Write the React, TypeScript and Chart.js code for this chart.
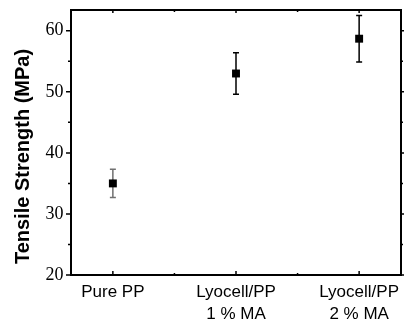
import React, { useEffect, useRef } from 'react';
import { Chart, registerables } from 'chart.js';

Chart.register(...registerables);

// ---- data ----
const categories: string[][] = [['Pure PP'], ['Lyocell/PP', '1 % MA'], ['Lyocell/PP', '2 % MA']];
const positions = [0, 1, 2];
const strength = [35.0, 53.0, 58.7];
const errors = [2.3, 3.4, 3.8];
const errorColors = ['#707070', '#000000', '#000000'];
const yMajorTicks = [20, 30, 40, 50, 60];
const yMinorTicks = [25, 35, 45, 55];
const xMinorTicks = [0.5, 1.5];
const yTitle = 'Tensile Strength (MPa)';

const framePlugin = {
  id: 'frameTicks',
  beforeDatasetsDraw(chart: any) {
    const ctx = chart.ctx;
    const xs = chart.scales.x;
    const ys = chart.scales.y;
    ctx.save();
    ctx.lineWidth = 1.5;
    positions.forEach((p, i) => {
      const x = xs.getPixelForValue(p);
      const yt = ys.getPixelForValue(strength[i] + errors[i]);
      const yb = ys.getPixelForValue(strength[i] - errors[i]);
      ctx.strokeStyle = errorColors[i];
      ctx.beginPath();
      ctx.moveTo(x, yt);
      ctx.lineTo(x, yb);
      ctx.moveTo(x - 3, yt);
      ctx.lineTo(x + 3, yt);
      ctx.moveTo(x - 3, yb);
      ctx.lineTo(x + 3, yb);
      ctx.stroke();
    });
    ctx.restore();
  },
  afterDraw(chart: any) {
    const ctx = chart.ctx;
    const { left, right, top, bottom } = chart.chartArea;
    const xs = chart.scales.x;
    const ys = chart.scales.y;
    ctx.save();
    ctx.strokeStyle = '#000';
    ctx.lineWidth = 2;
    ctx.strokeRect(left, top, right - left, bottom - top);
    ctx.lineWidth = 1.5;
    ctx.beginPath();
    yMajorTicks.forEach((v) => {
      const y = ys.getPixelForValue(v);
      ctx.moveTo(left - 5, y);
      ctx.lineTo(left, y);
      ctx.moveTo(right, y);
      ctx.lineTo(right + 3, y);
    });
    yMinorTicks.forEach((v) => {
      const y = ys.getPixelForValue(v);
      ctx.moveTo(left - 3, y);
      ctx.lineTo(left, y);
      ctx.moveTo(right, y);
      ctx.lineTo(right + 2, y);
    });
    positions.forEach((v) => {
      const x = xs.getPixelForValue(v);
      ctx.moveTo(x, bottom);
      ctx.lineTo(x, bottom - 4);
      ctx.moveTo(x, top);
      ctx.lineTo(x, top + 3);
    });
    xMinorTicks.forEach((v) => {
      const x = xs.getPixelForValue(v);
      ctx.moveTo(x, bottom);
      ctx.lineTo(x, bottom - 2);
      ctx.moveTo(x, top);
      ctx.lineTo(x, top + 2);
    });
    ctx.stroke();

    // y-axis title
    ctx.fillStyle = '#000';
    ctx.font = "bold 20px 'Liberation Sans', Arial, sans-serif";
    ctx.textAlign = 'center';
    ctx.textBaseline = 'middle';
    ctx.translate(23, 156.5);
    ctx.rotate(-Math.PI / 2);
    ctx.fillText(yTitle, 0, 0);
    ctx.restore();
  },
};

export default function App() {
  const canvasRef = useRef<HTMLCanvasElement | null>(null);

  useEffect(() => {
    if (!canvasRef.current) return;
    const chart = new Chart(canvasRef.current, {
      type: 'scatter',
      data: {
        datasets: [
          {
            data: positions.map((p, i) => ({ x: p, y: strength[i] })),
            pointStyle: 'rect',
            pointRadius: 5.6,
            pointHoverRadius: 5.6,
            backgroundColor: '#000',
            borderColor: '#000',
            borderWidth: 0,
          },
        ],
      },
      options: {
        animation: false,
        responsive: true,
        maintainAspectRatio: false,
        layout: { padding: { left: 0, right: 8, top: 10, bottom: 0 } },
        plugins: {
          legend: { display: false },
          tooltip: { enabled: false },
        },
        scales: {
          x: {
            type: 'linear',
            min: -0.34,
            max: 2.34,
            grid: { display: false, drawTicks: false },
            border: { display: false },
            afterBuildTicks: (scale: any) => {
              scale.ticks = positions.map((v) => ({ value: v }));
            },
            afterFit: (scale: any) => {
              scale.height = 49;
              scale.paddingLeft = 0;
              scale.paddingRight = 0;
            },
            ticks: {
              padding: 7,
              color: '#000',
              maxRotation: 0,
              autoSkip: false,
              font: { family: "'Liberation Sans', Arial, sans-serif", size: 17, lineHeight: 1.25 },
              callback: (_v: any, i: number) => categories[i],
            },
          },
          y: {
            min: 20,
            max: 63.4,
            grid: { display: false, drawTicks: false },
            border: { display: false },
            afterBuildTicks: (scale: any) => {
              scale.ticks = yMajorTicks.map((v) => ({ value: v }));
            },
            afterFit: (scale: any) => {
              scale.width = 71;
              scale.paddingTop = 0;
              scale.paddingBottom = 0;
            },
            ticks: {
              padding: 7.5,
              color: '#000',
              font: { family: "'Liberation Serif', 'Times New Roman', serif", size: 18 },
            },
          },
        },
      },
      plugins: [framePlugin],
    });
    return () => chart.destroy();
  }, []);

  return (
    <div style={{ position: 'fixed', left: 0, top: 0, width: 409, height: 324, background: '#fff' }}>
      <canvas ref={canvasRef} />
    </div>
  );
}
